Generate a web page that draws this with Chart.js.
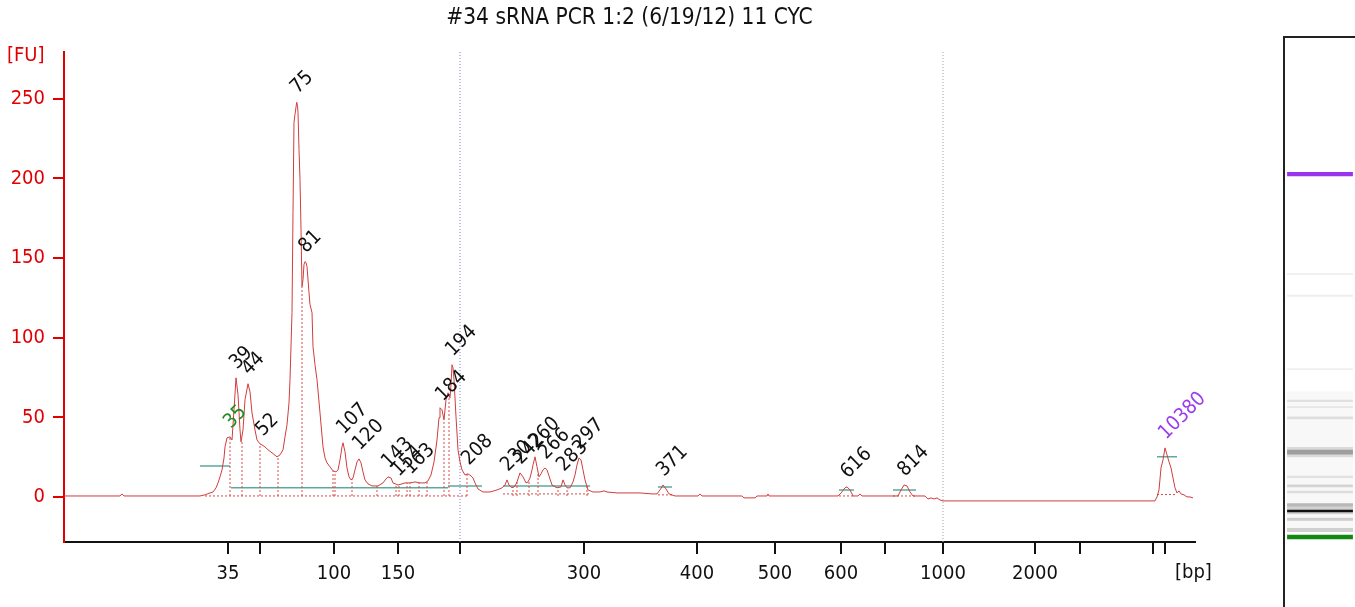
<!DOCTYPE html>
<html>
<head>
<meta charset="utf-8">
<title>#34 sRNA PCR 1:2 (6/19/12) 11 CYC</title>
<script src="https://cdn.jsdelivr.net/npm/chart.js@4"></script>
<style>
  body { margin: 0; background: #fff; }
  #main { position: absolute; left: 0; top: 0; }
  #lane { position: absolute; left: 1283px; top: 36px; width: 72px; height: 571px;
          border-left: 2px solid #222; border-top: 2px solid #222; box-sizing: border-box; }
  #gel { position: absolute; left: 0; top: 0; }
</style>
</head>
<body>
<canvas id="main" width="1260" height="607"></canvas>
<div id="lane"><canvas id="gel" width="70" height="569"></canvas></div>
<script>
// title + axis captions
var chartTitle = "#34 sRNA PCR 1:2 (6/19/12) 11 CYC";
var yUnit = "[FU]";
var xUnit = "[bp]";

// migration time axis (s) and the bp ladder ticks on it
var xMin = 40, xMax = 153.1;
var yMin = -28.3, yMax = 279.4;
var tickTimes  = [56.4, 59.6, 67.0, 73.4, 79.6, 92.0, 103.3, 111.1, 117.7, 122.1, 127.9, 137.1, 141.6, 148.9, 150.1];
var tickLabels = ["35", "", "100", "150", "", "300", "400", "500", "600", "", "1000", "2000", "", "", ""];
var yTicks = [0, 50, 100, 150, 200, 250];

// electropherogram trace: time (s) / fluorescence (FU)
var traceTime = [40.0, 45.6, 45.8, 46.0, 53.6, 54.1, 54.6, 54.9, 55.2, 55.4, 55.6, 55.8, 56.0, 56.1, 56.3, 56.6, 56.8, 57.0, 57.2, 57.4,
  57.6, 57.7, 57.9, 58.1, 58.4, 58.6, 58.8, 59.1, 59.3, 59.6, 59.8, 60.1, 60.4, 60.8, 61.3, 61.6, 61.9, 62.1, 62.3, 62.5,
  62.6, 62.8, 62.9, 63.0, 63.1, 63.27, 63.35, 63.4, 63.5, 63.6, 63.7, 63.8, 63.9, 64.0, 64.1, 64.2, 64.3, 64.5, 64.6, 64.8,
  64.9, 65.1, 65.3, 65.6, 65.9, 66.1, 66.3, 66.6, 66.9, 67.2, 67.4, 67.6, 67.8, 67.9, 68.1, 68.3, 68.5, 68.7, 68.9, 69.1,
  69.3, 69.5, 69.7, 69.9, 70.1, 70.4, 70.8, 71.4, 71.9, 72.2, 72.4, 72.7, 72.9, 73.4, 73.8, 74.1, 74.6, 75.1, 75.6, 76.1,
  76.4, 76.7, 77.0, 77.3, 77.5, 77.6, 77.8, 78.0, 78.2, 78.4, 78.6, 78.7, 78.8, 78.9, 79.0, 79.2, 79.4, 79.6, 79.8, 80.1,
  80.4, 80.7, 80.9, 81.1, 81.4, 81.9, 82.6, 83.3, 83.8, 84.1, 84.3, 84.5, 84.8, 85.1, 85.3, 85.6, 85.9, 86.2, 86.4, 86.6,
  86.8, 86.9, 87.1, 87.3, 87.5, 87.7, 87.9, 88.1, 88.3, 88.5, 88.8, 89.3, 89.7, 89.9, 90.1, 90.3, 90.6, 90.9, 91.1, 91.3,
  91.5, 91.7, 91.9, 92.1, 92.4, 92.9, 93.6, 94.0, 94.3, 95.3, 97.6, 98.8, 99.3, 99.6, 99.9, 100.2, 100.5, 101.1, 103.4, 103.6,
  103.8, 107.8, 108.0, 109.1, 109.3, 110.3, 110.4, 110.5, 117.4, 117.7, 118.1, 118.3, 118.6, 118.9, 119.4, 119.6, 119.8, 123.4, 123.7, 124.0,
  124.3, 124.6, 124.9, 126.1, 126.4, 126.7, 127.0, 127.3, 127.6, 127.9, 149.1, 149.3, 149.5, 149.7, 149.9, 150.1, 150.3, 150.5, 150.7, 150.9,
  151.1, 151.3, 151.5, 151.7, 152.0, 152.3, 152.6, 152.9];
var traceFU = [0.6, 0.6, 1.9, 0.6, 0.6, 1.3, 2.5, 3.1, 5.7, 8.8, 12.6, 17.0, 24.5, 31.4, 37.1, 37.7, 35.8, 54.7, 74.8, 64.2,
  42.1, 34.6, 42.1, 61.0, 71.1, 66.0, 52.8, 42.1, 35.8, 33.3, 32.7, 31.4, 29.6, 27.7, 25.2, 26.4, 29.6, 37.7, 45.3, 59.1,
  73.6, 115.7, 178.6, 235.2, 240.3, 247.8, 245.9, 241.5, 218.2, 199.4, 167.9, 132.1, 136.5, 145.9, 147.8, 147.2, 144.7, 128.3, 120.8, 115.7,
  94.3, 83.0, 73.6, 52.8, 31.4, 24.5, 21.4, 18.9, 16.4, 15.7, 17.0, 23.3, 31.4, 34.0, 28.3, 18.2, 12.6, 10.7, 11.9, 17.0,
  22.0, 23.9, 21.4, 15.7, 10.7, 8.2, 6.9, 6.9, 8.8, 11.3, 12.6, 11.9, 8.8, 7.5, 8.2, 8.8, 8.8, 9.4, 8.8, 8.8,
  10.1, 13.8, 22.0, 35.8, 49.7, 56.0, 54.7, 48.4, 61.0, 65.4, 62.3, 70.4, 83.0, 81.1, 73.6, 50.3, 29.6, 22.0, 17.0, 13.8,
  14.5, 13.2, 11.9, 8.8, 5.0, 3.1, 3.1, 4.4, 5.7, 7.5, 10.7, 7.5, 5.7, 6.9, 9.4, 15.1, 12.6, 8.8, 9.4, 11.9,
  17.0, 20.1, 25.2, 18.9, 12.6, 14.5, 17.0, 18.2, 17.0, 13.2, 7.5, 5.7, 6.3, 10.7, 7.5, 5.7, 5.7, 9.4, 13.8, 20.1,
  24.5, 23.3, 17.0, 10.7, 4.4, 3.1, 3.1, 3.8, 3.1, 2.5, 2.5, 1.9, 1.9, 4.4, 7.5, 5.0, 1.9, 0.6, 0.6, 1.9,
  0.6, 0.6, -0.6, -0.6, 0.6, 0.6, 1.9, 0.6, 0.6, 2.5, 5.7, 6.3, 4.4, 0.6, 0.6, 1.9, 0.6, 0.6, 4.4, 7.5,
  6.9, 3.1, 0.6, 0.6, -1.3, -0.6, -1.3, -0.6, -1.9, -2.5, -2.5, 0.0, 4.4, 18.2, 23.3, 30.8, 26.4, 22.0, 18.2, 11.9,
  5.7, 2.5, 3.8, 1.9, 1.3, 0.0, 0.0, -0.6];

// called peaks: size label, apex time, apex height
var peakLabels = ["35", "39", "44", "52", "75", "81", "107", "120", "143", "154", "163", "184", "194", "208",
  "230", "242", "260", "266", "283", "297", "371", "616", "814", "10380"];
var peakTime = [56.6, 57.2, 58.4, 59.8, 63.27, 64.1, 67.9, 69.5, 72.4, 73.4, 74.6, 77.8, 78.8, 80.4,
  84.3, 85.6, 87.1, 88.1, 89.9, 91.5, 99.9, 118.3, 124.0, 150.1];
var peakFU = [37.7, 74.8, 71.1, 32.7, 247.8, 147.8, 34.0, 23.9, 12.6, 7.5, 8.8, 54.7, 83.0, 14.5,
  10.7, 15.1, 25.2, 18.2, 10.7, 24.5, 7.5, 6.3, 7.5, 30.8];
var lowerMarker = "35", upperMarker = "10380";

// peak boundaries (dashed drops from the baseline)
var dropTime = [56.6, 57.8, 59.6, 61.4, 63.8, 66.9, 67.1, 68.8, 71.3, 73.2, 73.5, 74.3, 74.6, 75.5, 76.3, 78.0, 78.5, 80.3,
  84.9, 85.3, 86.5, 87.4, 89.4, 90.3, 92.3];
var dropFU = [37.7, 35.8, 33.3, 25.8, 132.1, 16.4, 15.7, 11.3, 6.9, 7.5, 7.5, 8.8, 8.8, 8.8, 9.4, 48.4, 63.5, 14.5,
  6.3, 9.4, 10.7, 15.7, 5.7, 5.7, 6.9];
var baseStart = [54.1, 83.9, 99.4, 117.5, 122.9, 149.3];
var baseEnd   = [80.5, 92.6, 100.8, 119.0, 125.2, 151.3];
var baseFU    = [0.6, 1.9, 1.3, 0.6, 0.6, 1.5];

// integration levels (teal)
var levelStart = [53.6, 56.7, 78.4, 83.9, 99.4, 117.5, 122.9, 149.3];
var levelEnd   = [56.6, 78.4, 81.8, 92.6, 100.8, 119.0, 125.2, 151.3];
var levelFU    = [19.5, 5.7, 6.9, 6.9, 6.3, 4.4, 4.4, 25.2];

// dotted guides at 200 bp and 1000 bp
var guideTime = [79.6, 127.9];
var guideColor = ["#7c7cd8", "#a0a0b0"];

// gel lane bands: time, half thickness, colour (first listed is drawn on top)
var gelMin = 38.35, gelMax = 185.1;
var bandTime = [150.0, 56.4, 63.1, 124.2, 118.6, 99.7, 91.5, 89.9, 87.1, 78.3, 71.9, 69.6, 68.0, 64.7, 61.0, 58.2, 63.6, 78.3, 76.0];
var bandHalf = [0.55, 0.6, 0.3, 0.25, 0.25, 0.25, 0.3, 0.25, 0.35, 0.6, 0.3, 0.35, 0.3, 0.4, 0.4, 0.5, 1.3, 1.3, 18.0];
var bandColor = ["#9933ee", "#118811", "#111111", "#eeeeee", "#eeeeee", "#efefef", "#e0e0e0", "#e6e6e6", "#dedede", "#9e9e9e",
  "#e0e0e0", "#d4d4d4", "#dcdcdc", "#b8b8b8", "#cdcdcd", "#d0d0d0", "#d2d2d2", "#dadada", "#f8f8f8"];

var FONT = "'DejaVu Sans Condensed', 'DejaVu Sans', sans-serif";

function segments(starts, ends, ys) {
  var pts = [];
  for (var i = 0; i < starts.length; i++) {
    pts.push({ x: starts[i], y: ys[i] }, { x: ends[i], y: ys[i] }, { x: ends[i], y: null });
  }
  return pts;
}

var dropPts = [];
for (var i = 0; i < dropTime.length; i++) {
  dropPts.push({ x: dropTime[i], y: 0.6 }, { x: dropTime[i], y: dropFU[i] }, { x: dropTime[i], y: null });
}

var guides = guideTime.map(function (t, i) {
  return {
    data: [{ x: t, y: yMin }, { x: t, y: yMax }],
    borderColor: guideColor[i], borderWidth: 1, borderDash: [1, 2], pointRadius: 0
  };
});

var textPlugin = {
  id: "texts",
  afterDatasetsDraw: function (chart) {
    var ctx = chart.ctx, a = chart.chartArea;
    var xs = chart.scales.x, ys = chart.scales.y;
    ctx.save();
    ctx.font = "20px " + FONT;
    ctx.textBaseline = "alphabetic";
    ctx.textAlign = "left";
    for (var i = 0; i < peakLabels.length; i++) {
      var px = xs.getPixelForValue(peakTime[i]);
      var py = ys.getPixelForValue(peakFU[i]);
      ctx.fillStyle = peakLabels[i] === lowerMarker ? "#1e8c1e" : (peakLabels[i] === upperMarker ? "#9a3cf0" : "#111");
      ctx.save();
      ctx.translate(px + 1, py - 8);
      ctx.rotate(-Math.PI / 4);
      ctx.fillText(peakLabels[i], 0, 0);
      ctx.restore();
    }
    ctx.textBaseline = "middle";
    ctx.textAlign = "center";
    ctx.fillStyle = "#111";
    ctx.font = "22.5px " + FONT;
    ctx.fillText(chartTitle, (a.left + a.right) / 2, 18);
    ctx.font = "20px " + FONT;
    ctx.textAlign = "left";
    ctx.fillStyle = "#e00000";
    ctx.fillText(yUnit, a.left - 57, a.top + 4);
    ctx.fillStyle = "#111";
    ctx.fillText(xUnit, a.right - 20, a.bottom + 31);
    ctx.restore();
  }
};

new Chart(document.getElementById("main").getContext("2d"), {
  type: "line",
  data: {
    datasets: [
      {
        data: traceTime.map(function (t, i) { return { x: t, y: traceFU[i] }; }),
        borderColor: "#d23c3c", borderWidth: 1, pointRadius: 0, tension: 0
      },
      { data: dropPts, borderColor: "#d84848", borderWidth: 1, borderDash: [2, 2], pointRadius: 0, spanGaps: false },
      { data: segments(baseStart, baseEnd, baseFU), borderColor: "#d84848", borderWidth: 1, borderDash: [2, 2], pointRadius: 0, spanGaps: false },
      { data: segments(levelStart, levelEnd, levelFU), borderColor: "#5ea99c", borderWidth: 1.5, pointRadius: 0, spanGaps: false }
    ].concat(guides)
  },
  options: {
    responsive: false,
    devicePixelRatio: 1,
    animation: false,
    layout: { padding: { left: 0, top: 52, right: 65, bottom: 0 } },
    plugins: { legend: { display: false }, tooltip: { enabled: false }, title: { display: false } },
    scales: {
      x: {
        type: "linear", min: xMin, max: xMax,
        afterBuildTicks: function (s) { s.ticks = tickTimes.map(function (v) { return { value: v }; }); },
        afterFit: function (s) { s.height = 65; },
        ticks: {
          autoSkip: false, maxRotation: 0, padding: 8, color: "#111",
          font: { family: FONT, size: 20 },
          callback: function (v, i) { return tickLabels[i]; }
        },
        grid: { drawOnChartArea: false, drawTicks: true, tickLength: 12, color: "#111", lineWidth: 2 },
        border: { display: true, color: "#111", width: 2 }
      },
      y: {
        type: "linear", min: yMin, max: yMax,
        afterBuildTicks: function (s) { s.ticks = yTicks.map(function (v) { return { value: v }; }); },
        afterFit: function (s) { s.width = 64; },
        ticks: { padding: 8, color: "#e00000", font: { family: FONT, size: 20 } },
        grid: { drawOnChartArea: false, drawTicks: true, tickLength: 11, color: "#e00000", lineWidth: 2 },
        border: { display: true, color: "#e00000", width: 2 }
      }
    }
  },
  plugins: [textPlugin]
});

// gel-like lane
new Chart(document.getElementById("gel").getContext("2d"), {
  type: "bar",
  data: {
    labels: ["lane"],
    datasets: bandTime.map(function (t, i) {
      return {
        data: [[t - bandHalf[i], t + bandHalf[i]]],
        backgroundColor: bandColor[i], borderWidth: 0,
        grouped: false, barPercentage: 0.94, categoryPercentage: 1
      };
    })
  },
  options: {
    responsive: false,
    devicePixelRatio: 1,
    animation: false,
    layout: { padding: 0 },
    plugins: { legend: { display: false }, tooltip: { enabled: false } },
    scales: {
      x: { display: false },
      y: { display: false, min: gelMin, max: gelMax }
    }
  }
});
</script>
</body>
</html>
